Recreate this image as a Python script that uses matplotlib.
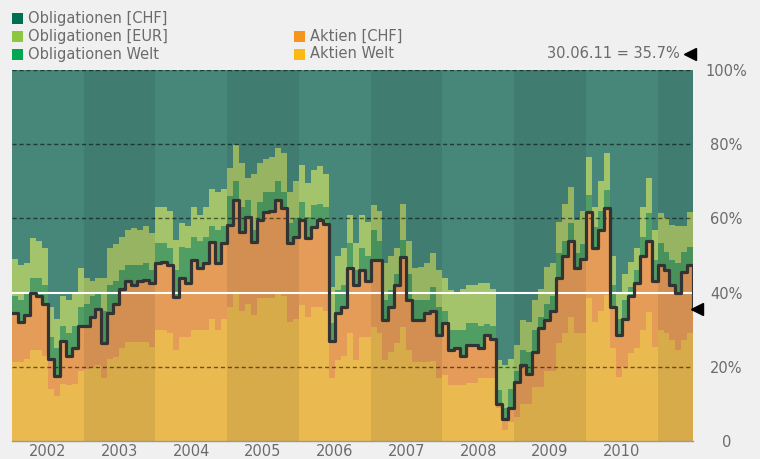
import numpy as np
import pandas as pd
import matplotlib
matplotlib.use("Agg")
import matplotlib.pyplot as plt
import matplotlib.transforms as mtransforms
from matplotlib.patches import Rectangle
from matplotlib.lines import Line2D

# monthly values (%), Jan 2002 .. Jun 2011, last entry = 30.06.11
dates = list(pd.date_range("2002-01-01", "2011-06-01", freq="MS")) + [pd.Timestamp("2011-06-30")]

# Aktien Welt (bottom layer)
aktien_welt = [
    21.3, 21.3, 22, 24.5, 24.5, 23, 14, 12, 15.4, 15,
    15.4, 19, 19.5, 20, 20.5, 17, 22, 22.6, 25, 26.7,
    26.7, 26.7, 26.7, 25.3, 30, 30, 29, 24.5, 28, 28,
    30, 30, 30, 33, 30, 33, 36, 40, 35, 37,
    34, 38.5, 38.5, 38.5, 40, 39, 32, 33, 36.7, 33.4,
    36, 36, 35, 17, 21.8, 23, 29, 21.8, 28, 28,
    30.7, 29, 21.8, 24, 26.4, 30.7, 24.5, 21.3, 21.3, 21.3,
    21.5, 17, 17.8, 15, 15, 15, 15.6, 15.6, 17, 17,
    17, 9, 3, 5, 6.5, 10, 10, 14.5, 14.5, 19,
    19, 26.4, 29, 33.4, 29, 29, 38.5, 32, 35, 39.4,
    25, 17.3, 20, 23.7, 25, 30, 34.8, 25.3, 30, 29,
    27.2, 24.5, 27.2, 29, 21,
]
# Aktien total = Aktien Welt + Aktien [CHF] (black line)
aktien_total = [
    34.5, 32, 34, 40, 39, 37, 22, 17.5, 27, 23,
    25, 31, 31, 33.5, 35.5, 26.5, 34.5, 37, 41, 43,
    42, 43, 43.4, 42.5, 48, 48.2, 47.5, 38.8, 44, 42.6,
    48.8, 46.6, 48, 53.6, 48, 53.3, 58.2, 65, 56.3, 60.4,
    53.6, 59.6, 61.7, 62, 65, 62.8, 53.3, 55, 59.6, 54.7,
    57.7, 59.6, 58.5, 27, 34.5, 36, 46.6, 42, 46, 43,
    48.8, 48.8, 32.6, 36, 42, 49.6, 38, 32.5, 32.5, 34.5,
    35, 28.5, 31.8, 24.5, 25, 23, 26, 26, 25, 28.5,
    27.5, 10, 6, 9, 16, 20.5, 18, 24, 30.5, 32.6,
    35, 44, 50, 54, 46.5, 49, 61.7, 52, 57, 62.8,
    36, 28.5, 33, 39, 42.5, 50, 54, 43, 47.5, 46,
    42, 40, 45.5, 47.4, 35.7,
]
# cumulative top of Obligationen Welt
bis_obl_welt = [
    39, 38, 40, 44, 44, 42, 28, 25, 31, 29,
    31, 36, 37, 39, 40, 35, 42, 43, 46, 47.5,
    47.5, 47.5, 48, 46, 53.3, 53.3, 52, 46, 52.3, 52,
    55, 54, 55, 58, 57, 58, 66, 70, 63, 65,
    57, 64.4, 67, 67, 70, 67, 58.8, 60, 64.4, 60.4,
    63.6, 64, 63, 31.8, 40.7, 42, 53.3, 46, 52, 50,
    56.9, 54, 38, 40.7, 45, 54.2, 45, 38, 38, 38,
    41.5, 36, 35, 30, 30, 30, 31.8, 31.8, 31, 31.5,
    31, 13.7, 9, 14, 19, 24.5, 24, 30, 33.4, 37,
    39, 50.7, 54, 58.8, 50.7, 53, 66.3, 57.7, 62, 67.7,
    42, 33, 38, 41.5, 46, 55, 61.5, 48.8, 53.3, 51,
    48.8, 48, 51, 52.3, 41,
]
# cumulative top of Obligationen [EUR]
bis_obl_eur = [
    49, 47.4, 48, 54.7, 54, 52, 36, 33, 39, 38,
    40, 46.6, 44, 43, 44, 44, 52, 53, 55, 57,
    57.5, 57, 58, 56, 63, 63, 62, 54.2, 58.8, 58,
    63, 61, 63, 68, 67, 68, 73.6, 79.8, 75, 71,
    72, 75, 76, 76.5, 79, 77.6, 67, 70, 74.4, 69.5,
    73, 74, 72, 41.5, 50, 52, 61, 53.3, 61, 59,
    63.6, 62, 48, 50, 52, 64, 54, 46.6, 47, 48,
    50.7, 46, 44, 40.7, 40, 41, 42, 42, 42.6, 42.6,
    41, 21.8, 20.5, 22, 26, 32.6, 32, 38, 41, 47,
    48, 59, 64, 68.5, 59.6, 62, 76.5, 63, 70, 77.6,
    50, 40, 45, 48.2, 52, 63, 70.9, 56.9, 61.5, 60,
    58.2, 58, 58, 61.7, 50,
]

legend_names = ["Obligationen [CHF]", "Obligationen [EUR]", "Obligationen Welt", "Aktien [CHF]", "Aktien Welt"]
legend_colors = ["#006f51", "#8dc63f", "#00a650", "#f7941d", "#fdb913"]

years = list(range(2002, 2011))
yticks = [0, 20, 40, 60, 80, 100]
ylabels = ["0", "20%", "40%", "60%", "80%", "100%"]

c_teal = "#468779"
c_lgreen = "#a3c46b"
c_dgreen = "#509e63"
c_orange = "#e49c58"
c_yellow = "#eaba50"
txt = "#6b6b6b"

plt.rcParams["font.family"] = "DejaVu Sans"
fig = plt.figure(figsize=(7.6, 4.59), dpi=100, facecolor="#f0f0f0")
ax = fig.add_axes([12 / 760, 1 - 441 / 459, (693 - 12) / 760, (441 - 70) / 459])
ax.set_facecolor("#f0f0f0")

ax.fill_between(dates, 0, aktien_welt, step="post", color=c_yellow, lw=0)
ax.fill_between(dates, aktien_welt, aktien_total, step="post", color=c_orange, lw=0)
ax.fill_between(dates, aktien_total, bis_obl_welt, step="post", color=c_dgreen, lw=0)
ax.fill_between(dates, bis_obl_welt, bis_obl_eur, step="post", color=c_lgreen, lw=0)
ax.fill_between(dates, bis_obl_eur, 100, step="post", color=c_teal, lw=0)

# darker band every other year
for y in range(2003, 2012, 2):
    ax.axvspan(pd.Timestamp(f"{y}-01-01"), pd.Timestamp(f"{y + 1}-01-01"), color="black", alpha=0.08, lw=0, zorder=2)

for g in [20, 60, 80, 100]:
    ax.axhline(g, color="black", alpha=0.55, lw=1, ls=(0, (3, 2)), zorder=3)
ax.axhline(40, color="white", lw=1.5, zorder=3)

ax.step(dates, aktien_total, where="post", color="#333333", lw=2.3, zorder=4)

ax.set_xlim(pd.Timestamp("2002-01-01"), dates[-1])
ax.set_ylim(0, 100)

ax.set_xticks([pd.Timestamp(f"{y}-07-01") for y in years])
ax.set_xticklabels([str(y) for y in years])
ax.yaxis.tick_right()
ax.set_yticks(yticks)
ax.set_yticklabels(ylabels)
ax.tick_params(axis="both", length=0, labelsize=10.5, labelcolor=txt)
ax.tick_params(axis="x", pad=2)
ax.tick_params(axis="y", pad=24)
for lab in ax.get_yticklabels():
    lab.set_horizontalalignment("center")

for s in ["top", "left", "right"]:
    ax.spines[s].set_visible(False)
ax.spines["bottom"].set_color("#999999")
ax.spines["bottom"].set_linewidth(1)
ax.spines["bottom"].set_zorder(5)

# marker for the last value
off = mtransforms.offset_copy(ax.transData, fig=fig, x=4, y=0, units="dots")
ax.plot([dates[-1]], [aktien_total[-1]], marker="<", color="black", ms=8, clip_on=False, transform=off, zorder=6)

# legend
leg_pos = [(12, 18), (12, 36), (12, 54), (294, 36), (294, 54)]
for (px, py), name, col in zip(leg_pos, legend_names, legend_colors):
    fig.add_artist(Rectangle((px / 760, 1 - (py + 5.5) / 459), 11 / 760, 11 / 459,
                             transform=fig.transFigure, color=col, lw=0))
    fig.text((px + 16) / 760, 1 - py / 459, name, ha="left", va="center", fontsize=10.5, color=txt)

fig.text(680 / 760, 1 - 54 / 459, "30.06.11 = %.1f%%" % aktien_total[-1], ha="right", va="center",
         fontsize=10.5, color=txt)
fig.add_artist(Line2D([689.5 / 760], [1 - 54 / 459], marker="<", color="black", ms=8,
                      transform=fig.transFigure))

fig.savefig("out.png", dpi=100, facecolor=fig.get_facecolor())
